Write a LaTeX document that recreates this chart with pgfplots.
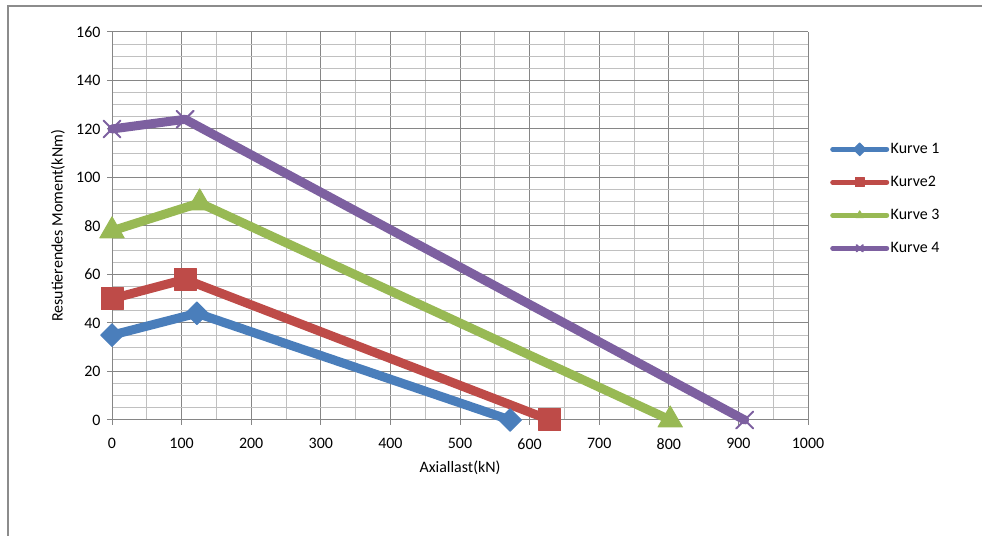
\documentclass[border=0pt]{standalone}
\usepackage{pgfplots}
\pgfplotsset{compat=1.18}
\usepackage{fontspec}
\setmainfont{Carlito}
\definecolor{c1}{HTML}{4A7EBB}
\definecolor{c2}{HTML}{BE4B48}
\definecolor{c3}{HTML}{98B954}
\definecolor{c4}{HTML}{7D60A0}
\definecolor{gmaj}{RGB}{134,134,134}
\definecolor{gmin}{RGB}{192,192,192}
\begin{document}
\begin{tikzpicture}[x=1bp,y=1bp]
\useasboundingbox (0,0) rectangle (991,536);
\draw[color={rgb,255:red,140;green,140;blue,140}, line width=1.5bp] (8,0) -- (8,530) -- (982,530);
\begin{axis}[
  at={(112bp,116bp)}, anchor=south west,
  scale only axis, width=696bp, height=388bp,
  xmin=0, xmax=1000, ymin=0, ymax=160,
  xtick={0,100,...,1000}, ytick={0,20,...,160},
  minor x tick num=1, minor y tick num=3,
  grid=both,
  major grid style={color=gmaj, line width=1bp},
  minor grid style={color=gmin, line width=1bp},
  axis lines*=left,
  axis line style={color=gmaj, line width=1bp},
  tick align=outside, major tick length=5bp, minor tick length=0pt,
  tick style={color=gmaj, line width=1bp},
  /pgf/number format/assume math mode=true,
  /pgf/number format/1000 sep={},
  ticklabel style={font=\fontsize{16}{18}\selectfont},
  xticklabel style={yshift=-10bp},
  yticklabel style={xshift=-3bp},
  label style={font=\fontsize{16}{18}\selectfont},
  xlabel={Axiallast(kN)}, ylabel={Resutierendes Moment(kNm)},
  xlabel style={at={(axis description cs:0.5,-0.124)}, anchor=center},
  ylabel style={at={(axis description cs:-0.0776,0.5)}, anchor=center},
  legend style={at={(1.0316,0.57)}, anchor=west, draw=none, fill=none,
    font=\fontsize{16}{18}\selectfont, row sep=16bp, inner sep=0pt,
    nodes={inner sep=1.5bp, text height=11bp, text depth=3bp}},
  legend cell align=left,
  legend image code/.code={\draw[mark repeat=2,mark phase=2,#1,line width=5bp,mark size=4.5bp]
     plot coordinates {(0bp,0bp)(27bp,0bp)(54bp,0bp)};},
  every axis plot/.append style={line width=9bp, line join=round, line cap=round},
  clip=false,
]
\addplot[color=c1, mark=square*, mark size=8bp, mark options={rotate=45, line width=1bp}]
  coordinates {(0,35) (122,44) (572,0)};
\addlegendentry{Kurve 1}
\addplot[color=c2, mark=square*, mark size=11bp, mark options={line width=1bp}]
  coordinates {(0,50) (105,58) (629,0)};
\addlegendentry{Kurve2}
\addplot[color=c3, mark=triangle*, mark size=14bp, mark options={line width=1bp}]
  coordinates {(0,78) (126,89.5) (802,0)};
\addlegendentry{Kurve 3}
\addplot[color=c4, mark=x, mark size=12bp, mark options={line width=2bp}]
  coordinates {(0,120) (105,124) (909,0)};
\addlegendentry{Kurve 4}
\end{axis}
\end{tikzpicture}
\end{document}
